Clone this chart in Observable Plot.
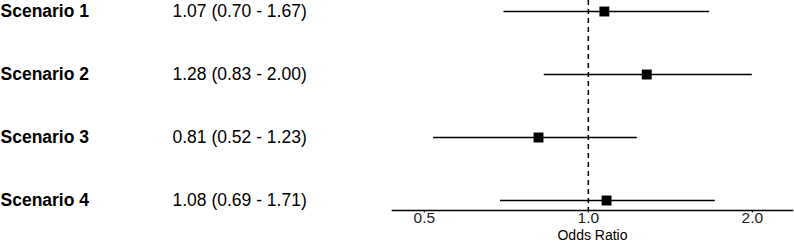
<!DOCTYPE html>
<html>
<head>
<meta charset="utf-8">
<script src="https://cdn.jsdelivr.net/npm/d3@7"></script>
<script src="https://cdn.jsdelivr.net/npm/@observablehq/plot@0.6"></script>
<style>
  html, body { margin: 0; padding: 0; background: #fff; }
</style>
</head>
<body>
<div id="chart"></div>
<script>
const scenarios = ["Scenario 1", "Scenario 2", "Scenario 3", "Scenario 4"];
const oddsRatio = [1.07, 1.28, 0.81, 1.08];
const lower = [0.70, 0.83, 0.52, 0.69];
const upper = [1.67, 2.00, 1.23, 1.71];
const xTicks = [0.5, 1.0, 2.0];

const data = scenarios.map((name, i) => ({
  name, or: oddsRatio[i], lo: lower[i], hi: upper[i],
  label: `${oddsRatio[i].toFixed(2)} (${lower[i].toFixed(2)} - ${upper[i].toFixed(2)})`
}));

const font = "'Liberation Sans', Arial, Helvetica, sans-serif";

const chart = Plot.plot({
  width: 794,
  height: 244,
  marginLeft: 392,
  marginRight: 2,
  marginTop: 0,
  marginBottom: 34,
  style: { fontFamily: font, background: "#fff", color: "#000" },
  x: { type: "log", domain: [0.437, 2.37] },
  y: { type: "point", domain: scenarios, range: [10, 200.7], padding: 0, axis: null },
  marks: [
    Plot.frame({ anchor: "bottom", strokeWidth: 1.6 }),
    Plot.axisX({ ticks: xTicks, tickSize: 2.5, tickFormat: () => "", label: null, stroke: "#000" }),
    Plot.text(xTicks, {
      x: d => d, frameAnchor: "bottom", dy: 12, text: d => d.toFixed(1),
      fontSize: 15.5, fill: "#222"
    }),
    Plot.text(["Odds Ratio"], {
      frameAnchor: "bottom", dy: 29.5, text: d => d,
      fontSize: 14, fill: "#000"
    }),
    Plot.ruleX([1], { strokeDasharray: "5,4", strokeWidth: 1.5, stroke: "#000" }),
    Plot.ruleY(data, { x1: "lo", x2: "hi", y: "name", strokeWidth: 1.5, stroke: "#000" }),
    Plot.dot(data, { x: "or", y: "name", symbol: "square", r: 5.6, fill: "#000", stroke: "none" }),
    Plot.text(data, {
      y: "name", text: "name", frameAnchor: "left", dx: -392,
      textAnchor: "start", fontWeight: "bold", fontSize: 17.5, fill: "#000"
    }),
    Plot.text(data, {
      y: "name", text: "label", frameAnchor: "left", dx: -220,
      textAnchor: "start", fontSize: 17.5, fill: "#000"
    })
  ]
});
document.getElementById("chart").appendChild(chart);
</script>
</body>
</html>
